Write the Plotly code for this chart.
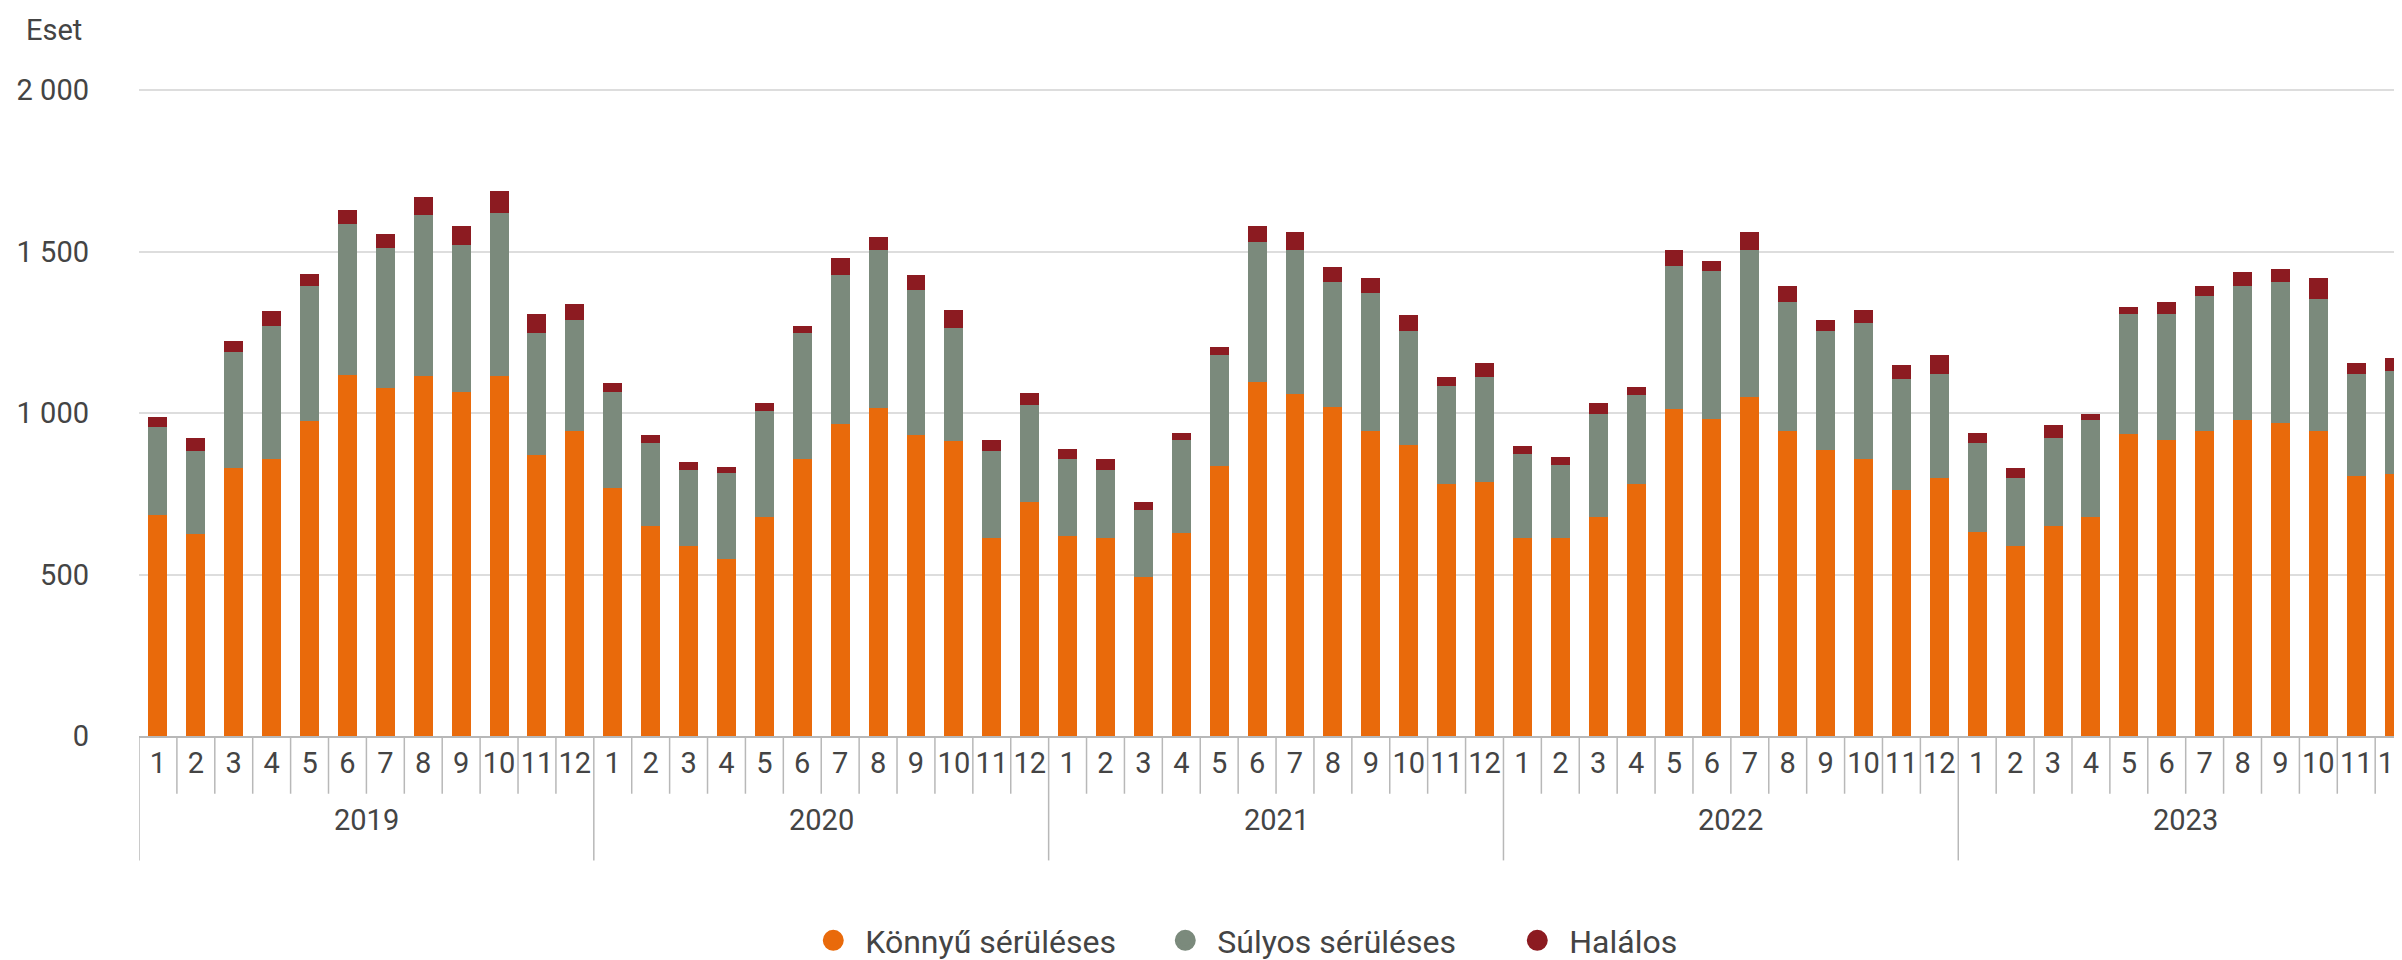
import plotly.graph_objects as go

years = ["2019", "2020", "2021", "2022", "2023"]
months = [str(m) for m in range(1, 13)]

# Könnyű sérüléses (light injury)
light = [
    684, 625, 830, 857, 976, 1119, 1077, 1115, 1065, 1115, 869, 944,
    768, 651, 587, 548, 679, 857, 967, 1015, 931, 913, 613, 726,
    619, 613, 494, 629, 837, 1095, 1060, 1018, 946, 902, 780, 786,
    613, 613, 679, 780, 1012, 982, 1050, 944, 885, 857, 762, 800,
    631, 587, 649, 679, 934, 917, 946, 979, 970, 946, 804, 810,
]
# Súlyos sérüléses (serious injury)
serious = [
    272, 258, 358, 414, 419, 467, 435, 498, 456, 504, 379, 344,
    297, 257, 238, 267, 327, 391, 461, 489, 450, 351, 270, 298,
    238, 212, 205, 288, 344, 435, 446, 387, 427, 352, 303, 327,
    260, 226, 317, 276, 443, 458, 456, 401, 369, 423, 343, 321,
    276, 211, 273, 301, 372, 389, 417, 416, 435, 409, 317, 321,
]
# Halálos (fatal)
fatal = [
    32, 39, 35, 44, 36, 44, 42, 57, 59, 68, 58, 51,
    27, 23, 24, 18, 24, 23, 52, 42, 48, 57, 34, 39,
    32, 32, 25, 21, 24, 50, 56, 47, 47, 50, 30, 42,
    26, 26, 34, 25, 49, 30, 56, 50, 34, 41, 44, 60,
    31, 33, 42, 18, 24, 39, 32, 42, 41, 65, 34, 39,
]

series_names = ["Könnyű sérüléses", "Súlyos sérüléses", "Halálos"]
series_colors = ["#e96a0b", "#7b8a7c", "#8c1b21"]
y_ticks = [0, 500, 1000, 1500, 2000]

# category positions (one slot per month)
labels = [f"{y}-{m}" for y in years for m in months]
xpos = list(range(len(labels)))
month_text = [m for _ in years for m in months]
n_m = len(months)

fig = go.Figure()
for name, vals, col in zip(series_names, [light, serious, fatal], series_colors):
    fig.add_trace(go.Bar(
        x=xpos, y=vals, name=name, customdata=labels,
        marker=dict(color=col, line=dict(width=0)),
        showlegend=False,
        hovertemplate="%{customdata}<br>" + name + ": %{y}<extra></extra>",
    ))
# circle legend entries
for name, col in zip(series_names, series_colors):
    fig.add_trace(go.Scatter(
        x=[None], y=[None], mode="markers", name=name,
        marker=dict(color=col, size=16, symbol="circle",
                    line=dict(color=col, width=5)),
        showlegend=True, hoverinfo="skip",
    ))

font_family = "Roboto, 'Open Sans', Arial, sans-serif"
axis_grey = "#b8b8b8"

T, B = 81, 229
plot_h = 960 - T - B
shapes = []
# month / year separators
for i in range(len(labels) + 1):
    is_year = (i % n_m == 0)
    shapes.append(dict(
        type="line", xref="x", yref="paper",
        x0=i - 0.5, x1=i - 0.5, y0=0,
        y1=-(125 if is_year else 58) / plot_h,
        line=dict(color=axis_grey, width=1.5), layer="above",
    ))

annotations = [dict(
    text="Eset", xref="paper", yref="paper",
    x=-0.0506, y=1 + 59 / plot_h, xanchor="left", yanchor="middle",
    showarrow=False, font=dict(size=29, color="#444444"),
)]
for k, yr in enumerate(years):
    annotations.append(dict(
        text=yr, xref="x", yref="paper",
        x=k * n_m + (n_m - 1) / 2, y=-84 / plot_h,
        xanchor="center", yanchor="middle", showarrow=False,
        font=dict(size=29, color="#444444"),
    ))

fig.update_layout(
    width=2402, height=960,
    barmode="stack", bargap=0.5,
    separators=", ",
    paper_bgcolor="white", plot_bgcolor="white",
    margin=dict(l=131, r=0, t=T, b=B),
    font=dict(family=font_family, size=28, color="#444444"),
    shapes=shapes,
    annotations=annotations,
    legend=dict(
        orientation="h", traceorder="normal",
        x=0.2924, xanchor="left", y=-206 / plot_h, yanchor="middle",
        font=dict(size=32, color="#444444"), itemsizing="trace",
        itemwidth=54, entrywidth=283, entrywidthmode="pixels",
    ),
    xaxis=dict(
        range=[-0.5, 59.26],
        tickvals=xpos, ticktext=month_text,
        showgrid=False, zeroline=False,
        showline=True, linecolor=axis_grey, linewidth=1.5,
        ticks="", ticklabelstandoff=0, ticklabeloverflow="allow",
        tickfont=dict(size=29, color="#444444"),
    ),
    yaxis=dict(
        range=[0, 2004],
        tickvals=y_ticks,
        tickformat=",d",
        showgrid=True, gridcolor="#dddddd", gridwidth=1.5,
        zeroline=False, showline=False,
        ticks="", ticklabelstandoff=49,
        tickfont=dict(size=29, color="#444444"),
    ),
)

fig.write_html("out.html")
